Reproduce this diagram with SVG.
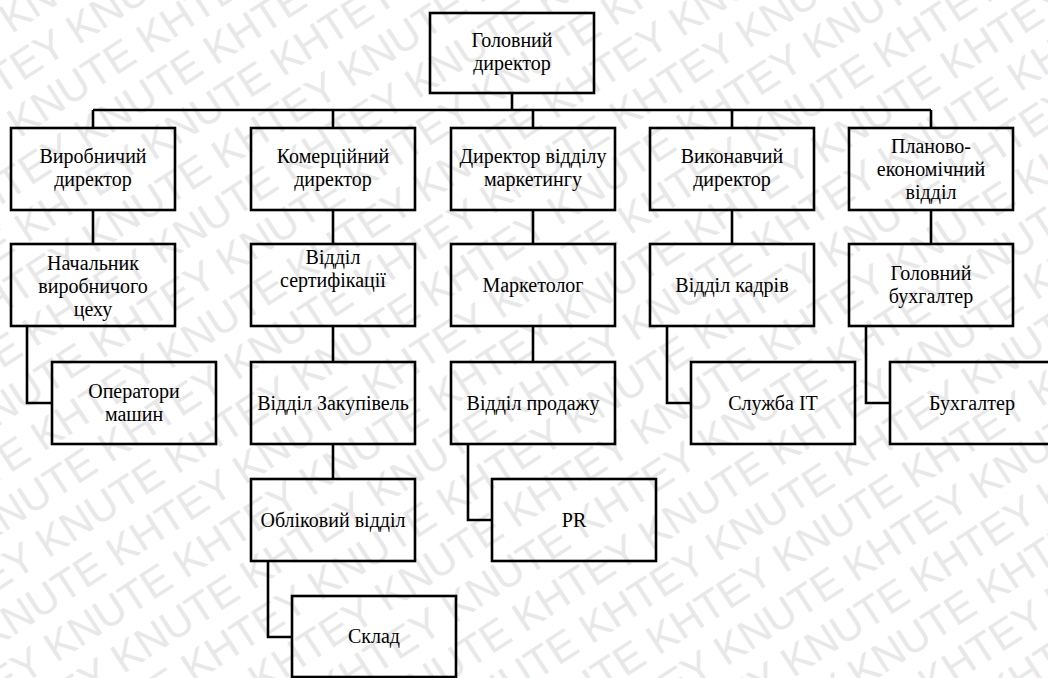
<svg xmlns="http://www.w3.org/2000/svg" width="1048" height="678" viewBox="0 0 1048 678">
<style>
.wm{font-family:"Liberation Sans",Arial,sans-serif;font-size:42px;fill:#e8e8e8}
.box{fill:none;stroke:#000;stroke-width:2.6}
.t{font-family:"Liberation Serif","Times New Roman",serif;font-size:20px;fill:#000;text-anchor:middle}
.c{fill:none;stroke:#000;stroke-width:2.6;stroke-linejoin:miter}
</style>
<rect width="1048" height="678" fill="#fff"/>
<g id="watermark" transform="rotate(-33 524 339)">
<text class="wm" x="-300" y="-288">KNUTE KHTEY KNUTE KHTEY KNUTE KHTEY KNUTE KHTEY KNUTE KHTEY KNUTE KHTEY</text>
<text class="wm" x="-400" y="-242">KNUTE KHTEY KNUTE KHTEY KNUTE KHTEY KNUTE KHTEY KNUTE KHTEY KNUTE KHTEY</text>
<text class="wm" x="-350" y="-196">KNUTE KHTEY KNUTE KHTEY KNUTE KHTEY KNUTE KHTEY KNUTE KHTEY KNUTE KHTEY</text>
<text class="wm" x="-300" y="-150">KNUTE KHTEY KNUTE KHTEY KNUTE KHTEY KNUTE KHTEY KNUTE KHTEY KNUTE KHTEY</text>
<text class="wm" x="-400" y="-104">KNUTE KHTEY KNUTE KHTEY KNUTE KHTEY KNUTE KHTEY KNUTE KHTEY KNUTE KHTEY</text>
<text class="wm" x="-350" y="-58">KNUTE KHTEY KNUTE KHTEY KNUTE KHTEY KNUTE KHTEY KNUTE KHTEY KNUTE KHTEY</text>
<text class="wm" x="-300" y="-12">KNUTE KHTEY KNUTE KHTEY KNUTE KHTEY KNUTE KHTEY KNUTE KHTEY KNUTE KHTEY</text>
<text class="wm" x="-400" y="34">KNUTE KHTEY KNUTE KHTEY KNUTE KHTEY KNUTE KHTEY KNUTE KHTEY KNUTE KHTEY</text>
<text class="wm" x="-350" y="80">KNUTE KHTEY KNUTE KHTEY KNUTE KHTEY KNUTE KHTEY KNUTE KHTEY KNUTE KHTEY</text>
<text class="wm" x="-300" y="126">KNUTE KHTEY KNUTE KHTEY KNUTE KHTEY KNUTE KHTEY KNUTE KHTEY KNUTE KHTEY</text>
<text class="wm" x="-400" y="172">KNUTE KHTEY KNUTE KHTEY KNUTE KHTEY KNUTE KHTEY KNUTE KHTEY KNUTE KHTEY</text>
<text class="wm" x="-350" y="218">KNUTE KHTEY KNUTE KHTEY KNUTE KHTEY KNUTE KHTEY KNUTE KHTEY KNUTE KHTEY</text>
<text class="wm" x="-300" y="264">KNUTE KHTEY KNUTE KHTEY KNUTE KHTEY KNUTE KHTEY KNUTE KHTEY KNUTE KHTEY</text>
<text class="wm" x="-400" y="310">KNUTE KHTEY KNUTE KHTEY KNUTE KHTEY KNUTE KHTEY KNUTE KHTEY KNUTE KHTEY</text>
<text class="wm" x="-350" y="356">KNUTE KHTEY KNUTE KHTEY KNUTE KHTEY KNUTE KHTEY KNUTE KHTEY KNUTE KHTEY</text>
<text class="wm" x="-300" y="402">KNUTE KHTEY KNUTE KHTEY KNUTE KHTEY KNUTE KHTEY KNUTE KHTEY KNUTE KHTEY</text>
<text class="wm" x="-400" y="448">KNUTE KHTEY KNUTE KHTEY KNUTE KHTEY KNUTE KHTEY KNUTE KHTEY KNUTE KHTEY</text>
<text class="wm" x="-350" y="494">KNUTE KHTEY KNUTE KHTEY KNUTE KHTEY KNUTE KHTEY KNUTE KHTEY KNUTE KHTEY</text>
<text class="wm" x="-300" y="540">KNUTE KHTEY KNUTE KHTEY KNUTE KHTEY KNUTE KHTEY KNUTE KHTEY KNUTE KHTEY</text>
<text class="wm" x="-400" y="586">KNUTE KHTEY KNUTE KHTEY KNUTE KHTEY KNUTE KHTEY KNUTE KHTEY KNUTE KHTEY</text>
<text class="wm" x="-350" y="632">KNUTE KHTEY KNUTE KHTEY KNUTE KHTEY KNUTE KHTEY KNUTE KHTEY KNUTE KHTEY</text>
<text class="wm" x="-300" y="678">KNUTE KHTEY KNUTE KHTEY KNUTE KHTEY KNUTE KHTEY KNUTE KHTEY KNUTE KHTEY</text>
<text class="wm" x="-400" y="724">KNUTE KHTEY KNUTE KHTEY KNUTE KHTEY KNUTE KHTEY KNUTE KHTEY KNUTE KHTEY</text>
<text class="wm" x="-350" y="770">KNUTE KHTEY KNUTE KHTEY KNUTE KHTEY KNUTE KHTEY KNUTE KHTEY KNUTE KHTEY</text>
<text class="wm" x="-300" y="816">KNUTE KHTEY KNUTE KHTEY KNUTE KHTEY KNUTE KHTEY KNUTE KHTEY KNUTE KHTEY</text>
<text class="wm" x="-400" y="862">KNUTE KHTEY KNUTE KHTEY KNUTE KHTEY KNUTE KHTEY KNUTE KHTEY KNUTE KHTEY</text>
<text class="wm" x="-350" y="908">KNUTE KHTEY KNUTE KHTEY KNUTE KHTEY KNUTE KHTEY KNUTE KHTEY KNUTE KHTEY</text>
<text class="wm" x="-300" y="954">KNUTE KHTEY KNUTE KHTEY KNUTE KHTEY KNUTE KHTEY KNUTE KHTEY KNUTE KHTEY</text>
<text class="wm" x="-400" y="1000">KNUTE KHTEY KNUTE KHTEY KNUTE KHTEY KNUTE KHTEY KNUTE KHTEY KNUTE KHTEY</text>
</g>
<g id="connectors">
<path class="c" d="M512 93V110M93 110H931M93 110V128M333 110V128M533 110V128M732 110V128M931 110V128"/>
<path class="c" d="M93 210V244M333 210V244M533 210V244M732 210V244M931 210V244"/>
<path class="c" d="M27 326V403H52"/>
<path class="c" d="M333 326V362M333 444V479"/>
<path class="c" d="M268 561V637H292"/>
<path class="c" d="M533 326V362"/>
<path class="c" d="M468 444V520H492"/>
<path class="c" d="M667 326V403H691"/>
<path class="c" d="M866 326V403H890"/>
</g>
<g id="n-ceo"><rect class="box" x="430" y="13" width="164" height="80"/><text class="t" x="512" y="47">Головний</text><text class="t" x="512" y="70">директор</text></g>
<g id="n-prod-dir"><rect class="box" x="11" y="128" width="164" height="82"/><text class="t" x="93" y="163">Виробничий</text><text class="t" x="93" y="186">директор</text></g>
<g id="n-comm-dir"><rect class="box" x="251" y="128" width="164" height="82"/><text class="t" x="333" y="163">Комерційний</text><text class="t" x="333" y="186">директор</text></g>
<g id="n-mkt-dir"><rect class="box" x="451" y="128" width="164" height="82"/><text class="t" x="533" y="163">Директор відділу</text><text class="t" x="533" y="186">маркетингу</text></g>
<g id="n-exec-dir"><rect class="box" x="650" y="128" width="164" height="82"/><text class="t" x="732" y="163">Виконавчий</text><text class="t" x="732" y="186">директор</text></g>
<g id="n-plan"><rect class="box" x="849" y="128" width="164" height="82"/><text class="t" x="931" y="153">Планово-</text><text class="t" x="931" y="176">економічний</text><text class="t" x="931" y="199">відділ</text></g>
<g id="n-shop-head"><rect class="box" x="11" y="244" width="164" height="82"/><text class="t" x="93" y="270">Начальник</text><text class="t" x="93" y="293">виробничого</text><text class="t" x="93" y="316">цеху</text></g>
<g id="n-cert"><rect class="box" x="251" y="244" width="164" height="82"/><text class="t" x="333" y="264">Відділ</text><text class="t" x="333" y="287">сертифікації</text></g>
<g id="n-marketer"><rect class="box" x="451" y="244" width="164" height="82"/><text class="t" x="533" y="292">Маркетолог</text></g>
<g id="n-hr"><rect class="box" x="650" y="244" width="164" height="82"/><text class="t" x="732" y="292">Відділ кадрів</text></g>
<g id="n-chief-acc"><rect class="box" x="849" y="244" width="164" height="82"/><text class="t" x="931" y="280">Головний</text><text class="t" x="931" y="303">бухгалтер</text></g>
<g id="n-operators"><rect class="box" x="52" y="362" width="164" height="82"/><text class="t" x="134" y="398">Оператори</text><text class="t" x="134" y="421">машин</text></g>
<g id="n-purchase"><rect class="box" x="251" y="362" width="164" height="82"/><text class="t" x="333" y="410">Відділ Закупівель</text></g>
<g id="n-sales"><rect class="box" x="451" y="362" width="164" height="82"/><text class="t" x="533" y="410">Відділ продажу</text></g>
<g id="n-it"><rect class="box" x="691" y="362" width="164" height="82"/><text class="t" x="773" y="410">Служба IT</text></g>
<g id="n-acc"><rect class="box" x="890" y="362" width="164" height="82"/><text class="t" x="972" y="410">Бухгалтер</text></g>
<g id="n-accounting"><rect class="box" x="251" y="479" width="164" height="82"/><text class="t" x="333" y="527">Обліковий відділ</text></g>
<g id="n-pr"><rect class="box" x="492" y="479" width="164" height="82"/><text class="t" x="574" y="527">PR</text></g>
<g id="n-warehouse"><rect class="box" x="292" y="596" width="164" height="81"/><text class="t" x="374" y="643">Склад</text></g>
</svg>
